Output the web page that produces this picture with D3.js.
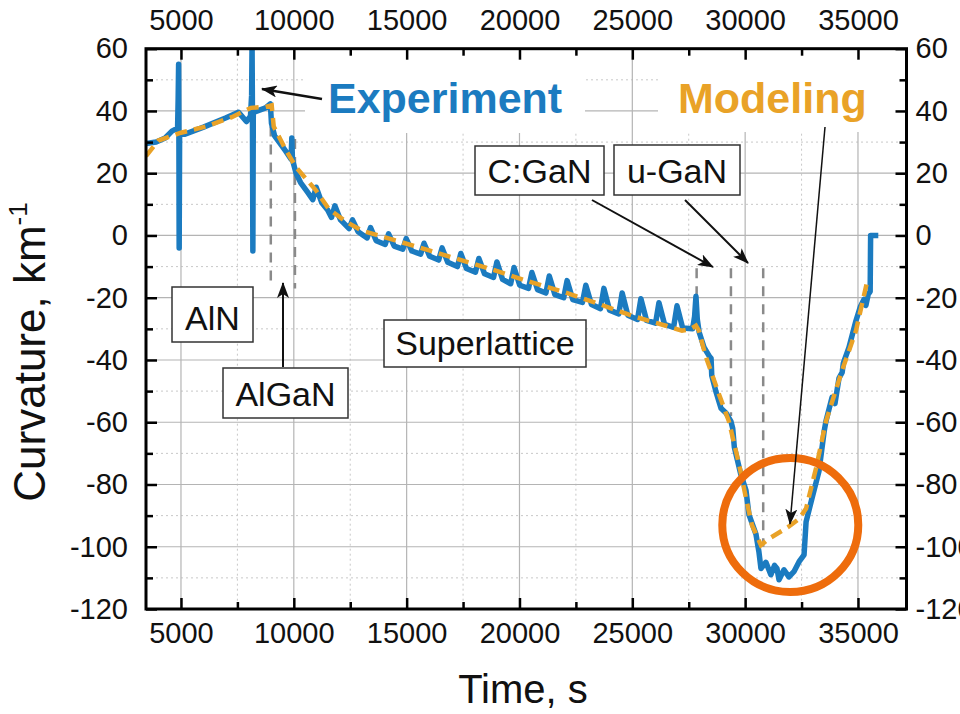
<!DOCTYPE html>
<html>
<head>
<meta charset="utf-8">
<script src="https://cdn.jsdelivr.net/npm/d3@7"></script>
<style>
  html, body { margin: 0; padding: 0; background: #fff; }
  svg { display: block; }
  text { font-family: "Liberation Sans", Arial, sans-serif; }
</style>
</head>
<body>
<svg id="chart" width="960" height="714"></svg>
<script>
// ---- data -------------------------------------------------------------
// Measured wafer curvature (km^-1) vs growth time (s)
const expTime = [3450, 3900, 4300, 4600, 4850, 4875, 4895, 4905, 4920, 4940, 5150, 6000, 7000, 7550, 7900, 8080,
  8130, 8150, 8165, 8185, 8205, 8450, 8750, 8960, 9010, 9150, 9400, 9650, 9880, 9910, 9940, 10100, 10300, 10600,
  10840, 10990, 11240, 11500, 11670, 11820, 12070, 12450, 12600, 12850, 13250, 13400, 13650, 14050, 14200, 14450,
  14830, 14980, 15230, 15620, 15770, 16020, 16420, 16570, 16820, 17250, 17400, 17650, 18050, 18200, 18450, 18850,
  19000, 19250, 19610, 19760, 20010, 20400, 20550, 20800, 21170, 21320, 21570, 21960, 22110, 22360, 22790, 22940,
  23190, 23590, 23740, 23990, 24400, 24550, 24800, 25230, 25380, 25630, 26030, 26180, 26430, 26830, 26980, 27230,
  27670, 27760, 27820, 27880, 27960, 28180, 28430, 28490, 28520, 28700, 28930, 29150,
  29370, 29450, 29520, 29810, 30040, 30170, 30480, 30610, 30700, 30920, 31140, 31300, 31410, 31500, 31720, 31940,
  32160, 32390, 32610, 32700, 32960, 33270, 33500, 33580, 33850, 33980, 34160, 34300, 34350, 34600, 34910, 35100,
  35270, 35350, 35450, 35540, 35560, 35900];
const expCurv = [29.5, 30, 31.3, 33.5, 34.5, 44, 55, 40, -4, 33, 32.5, 34.8, 37.8, 39.6, 36.6, 38.3,
  45, 62, 42, -5, 39.5, 40.2, 41, 42.3, 36, 32, 29.5, 27, 24.5, 31.3, 24.3, 20, 17, 14,
  11.5, 15.5, 10.5, 8.2, 5.8, 9.5, 5, 2.2, 5, 1.2, -0.8, 2.5, -1.7, -2.9, 0.5, -3.4,
  -4.4, -1, -5, -6, -2.5, -6.7, -7.9, -4, -8.6, -10, -5.8, -10.6, -11.8, -7.4, -12.3, -13.5,
  -8.5, -14.1, -15.5, -10.3, -16, -17, -11.9, -17.4, -18.5, -13, -19, -20, -14.5, -20.6, -21.5, -16,
  -22.2, -23.5, -17, -24, -25.2, -18.5, -25.6, -27, -20.3, -27.3, -28.2, -21.6, -28.6, -29.5, -22.6, -29.7,
  -30, -26, -19.5, -27, -31, -36, -39, -39.5, -45, -50, -55.5, -57,
  -59.7, -62, -68, -76.8, -82, -89.7, -96, -101.6, -107, -105, -109, -106, -107, -110.6, -107.4, -109.7,
  -108, -104.8, -102.6, -92, -84.5, -75.8, -63, -59.7, -52, -54, -45.8, -44, -41, -36, -27.4, -23,
  -20.5, -22.5, -19, -18, 0, 0];

// Simulated curvature (km^-1) vs growth time (s)
const modelTime = [3450, 4000, 5000, 6100, 7250, 8100, 8750, 9020, 9110, 9650, 10090, 10980, 11550, 12300, 13000,
  14500, 16000, 17450, 18950, 20420, 22060, 23520, 24980, 26490, 27200, 27600, 27820, 27950, 28260, 28840, 29280,
  29730, 30040, 30300, 30700, 31060, 31940, 32390, 32700, 33140, 33580, 34290, 34910, 35400];
const modelCurv = [25.5, 30.5, 33, 35, 38, 41, 41.3, 41.8, 35, 27.4, 22, 14.5, 8.5, 4.5, 1.6,
  -1.6, -4.8, -8, -11.3, -14.8, -18.4, -22, -25.8, -29, -30.6, -30, -29, -30.6, -39, -51, -59.7,
  -73.5, -84.5, -93, -99.5, -97.4, -93.5, -91, -87.7, -74.8, -59.7, -43.5, -30.6, -15];

// Layer boundaries: time, upper and lower curvature of the dashed marker
const boundTime = [8980, 10050, 27850, 29370, 30800];
const boundTop = [35, 31, -10.5, -10.5, -10.5];
const boundBottom = [-17, -17, -21, -58, -100];

// Axis ticks
const xMajor = [5000, 10000, 15000, 20000, 25000, 30000, 35000];
const xMinor = [7500, 12500, 17500, 22500, 27500, 32500];
const yMajor = [-120, -100, -80, -60, -40, -20, 0, 20, 40, 60];
const yMinor = [-110, -90, -70, -50, -30, -10, 10, 30, 50];

// Layer labels
const layerNames = ["AlN", "AlGaN", "Superlattice", "C:GaN", "u-GaN"];

// ---- layout -----------------------------------------------------------
const svg = d3.select("#chart");
const pL = 146, pR = 906.5, pT = 48.7, pB = 609;
const x = d3.scaleLinear().domain([3450, 37150]).range([pL, pR]);
const y = d3.scaleLinear().domain([-120, 60]).range([pB, pT]);

const blue = "#1b7bc0", orange = "#e9a227", ring = "#ee6c0c";

svg.append("rect").attr("width", 960).attr("height", 714).attr("fill", "#fff");

// grid
const grid = svg.append("g");
grid.selectAll(".vmin").data(xMinor).join("line")
  .attr("x1", d => x(d)).attr("x2", d => x(d)).attr("y1", pT).attr("y2", pB)
  .attr("stroke", "#c8c8c8").attr("stroke-width", 1).attr("stroke-dasharray", "2,3");
grid.selectAll(".hmin").data(yMinor).join("line")
  .attr("y1", d => y(d)).attr("y2", d => y(d)).attr("x1", pL).attr("x2", pR)
  .attr("stroke", "#c8c8c8").attr("stroke-width", 1).attr("stroke-dasharray", "2,3");
grid.selectAll(".vmaj").data(xMajor).join("line")
  .attr("x1", d => x(d)).attr("x2", d => x(d)).attr("y1", pT).attr("y2", pB)
  .attr("stroke", "#b4b4b4").attr("stroke-width", 1.2);
grid.selectAll(".hmaj").data(yMajor).join("line")
  .attr("y1", d => y(d)).attr("y2", d => y(d)).attr("x1", pL).attr("x2", pR)
  .attr("stroke", "#b4b4b4").attr("stroke-width", 1.2);

// white backing behind the series titles
svg.append("rect").attr("x", 305).attr("y", pT).attr("width", 280).attr("height", 133 - pT).attr("fill", "#fff");
svg.append("rect").attr("x", 658).attr("y", pT).attr("width", pR - 658).attr("height", 132 - pT).attr("fill", "#fff");

// clip for the data
svg.append("clipPath").attr("id", "plotclip").append("rect")
  .attr("x", pL).attr("y", pT).attr("width", pR - pL).attr("height", pB - pT);

// layer boundary markers
svg.append("g").selectAll("line").data(boundTime).join("line")
  .attr("x1", d => x(d)).attr("x2", d => x(d))
  .attr("y1", (d, i) => y(boundTop[i])).attr("y2", (d, i) => y(boundBottom[i]))
  .attr("stroke", "#8a8a8a").attr("stroke-width", 2.5).attr("stroke-dasharray", "10,8");

const plot = svg.append("g").attr("clip-path", "url(#plotclip)");
const line = d3.line().x(d => x(d[0])).y(d => y(d[1]));

plot.append("path").datum(expTime.map((t, i) => [t, expCurv[i]]))
  .attr("d", line).attr("fill", "none").attr("stroke", blue)
  .attr("stroke-width", 5.5).attr("stroke-linejoin", "round");

plot.append("path").datum(modelTime.map((t, i) => [t, modelCurv[i]]))
  .attr("d", line).attr("fill", "none").attr("stroke", orange)
  .attr("stroke-width", 4.5).attr("stroke-dasharray", "12,7");

// highlight ring around the minimum
svg.append("ellipse").attr("cx", x(32000)).attr("cy", y(-93)).attr("rx", 68).attr("ry", 67)
  .attr("fill", "none").attr("stroke", ring).attr("stroke-width", 8);

// arrow marker
const defs = svg.append("defs");
defs.append("marker").attr("id", "arrow").attr("markerUnits", "userSpaceOnUse")
  .attr("viewBox", "0 0 16 12").attr("refX", 15).attr("refY", 6)
  .attr("markerWidth", 16).attr("markerHeight", 12).attr("orient", "auto")
  .append("path").attr("d", "M0,0 L16,6 L0,12 L4,6 Z").attr("fill", "#111");

// label boxes
const boxes = [
  { x0: 172, y0: 287, x1: 253, y1: 342 },
  { x0: 223, y0: 368, x1: 348, y1: 418 },
  { x0: 384, y0: 320, x1: 586, y1: 367 },
  { x0: 475, y0: 146, x1: 604, y1: 195 },
  { x0: 614, y0: 145, x1: 740, y1: 195 }
];
const bg = svg.append("g").selectAll("g").data(layerNames).join("g");
bg.append("rect")
  .attr("x", (d, i) => boxes[i].x0).attr("y", (d, i) => boxes[i].y0)
  .attr("width", (d, i) => boxes[i].x1 - boxes[i].x0).attr("height", (d, i) => boxes[i].y1 - boxes[i].y0)
  .attr("fill", "#fff").attr("stroke", "#333").attr("stroke-width", 1.5);
bg.append("text")
  .attr("x", (d, i) => (boxes[i].x0 + boxes[i].x1) / 2)
  .attr("y", (d, i) => boxes[i].y1 - 12.5)
  .attr("text-anchor", "middle").attr("font-size", 34).attr("fill", "#111")
  .text(d => d);

// arrows
const arrows = [
  { x1: 322, y1: 99, x2: 262, y2: 89, w: 2.5 },
  { x1: 283, y1: 367, x2: 283, y2: 283, w: 2 },
  { x1: 592, y1: 200, x2: 713, y2: 267, w: 2 },
  { x1: 685, y1: 200, x2: 748, y2: 263, w: 2 },
  { x1: 825, y1: 127, x2: 790, y2: 524, w: 1.5 }
];
svg.append("g").selectAll("line").data(arrows).join("line")
  .attr("x1", d => d.x1).attr("y1", d => d.y1).attr("x2", d => d.x2).attr("y2", d => d.y2)
  .attr("stroke", "#111").attr("stroke-width", d => d.w).attr("marker-end", "url(#arrow)");

// series titles
svg.append("text").attr("x", 328).attr("y", 113).attr("font-size", 43).attr("font-weight", "bold")
  .attr("fill", blue).text("Experiment");
svg.append("text").attr("x", 678).attr("y", 113).attr("font-size", 43).attr("font-weight", "bold")
  .attr("fill", orange).text("Modeling");

// axes
function styleAxis(g) {
  g.select(".domain").remove();
  g.selectAll(".tick line").attr("stroke", "#000").attr("stroke-width", 2.5);
  g.selectAll("text").attr("font-size", 29).attr("fill", "#111")
    .attr("font-family", '"Liberation Sans", Arial, sans-serif');
}
const fmt = d => String(d);
svg.append("g").attr("transform", `translate(0,${pB})`)
  .call(d3.axisBottom(x).tickValues(xMajor).tickSize(-11).tickPadding(13).tickFormat(fmt)).call(styleAxis);
svg.append("g").attr("transform", `translate(0,${pT})`)
  .call(d3.axisTop(x).tickValues(xMajor).tickSize(-11).tickPadding(19).tickFormat(fmt)).call(styleAxis);
svg.append("g").attr("transform", `translate(0,${pB})`)
  .call(d3.axisBottom(x).tickValues(xMinor).tickSize(-7).tickFormat("")).call(styleAxis);
svg.append("g").attr("transform", `translate(0,${pT})`)
  .call(d3.axisTop(x).tickValues(xMinor).tickSize(-7).tickFormat("")).call(styleAxis);

svg.append("g").attr("transform", `translate(${pL},0)`)
  .call(d3.axisLeft(y).tickValues(yMajor).tickSize(-11).tickPadding(18).tickFormat(fmt)).call(styleAxis);
svg.append("g").attr("transform", `translate(${pR},0)`)
  .call(d3.axisRight(y).tickValues(yMajor).tickSize(-11).tickPadding(9).tickFormat(fmt)).call(styleAxis);
svg.append("g").attr("transform", `translate(${pL},0)`)
  .call(d3.axisLeft(y).tickValues(yMinor).tickSize(-7).tickFormat("")).call(styleAxis);
svg.append("g").attr("transform", `translate(${pR},0)`)
  .call(d3.axisRight(y).tickValues(yMinor).tickSize(-7).tickFormat("")).call(styleAxis);

// frame
svg.append("rect").attr("x", pL).attr("y", pT).attr("width", pR - pL).attr("height", pB - pT)
  .attr("fill", "none").attr("stroke", "#000").attr("stroke-width", 3);

// axis titles
svg.append("text").attr("x", 523).attr("y", 703).attr("text-anchor", "middle")
  .attr("font-size", 40).attr("fill", "#111").text("Time, s");
const yt = svg.append("text").attr("transform", "translate(45,352) rotate(-90)")
  .attr("text-anchor", "middle").attr("font-size", 44).attr("fill", "#111");
yt.append("tspan").text("Curvature, km");
yt.append("tspan").attr("font-size", 26).attr("dy", -18).text("-1");
</script>
</body>
</html>
